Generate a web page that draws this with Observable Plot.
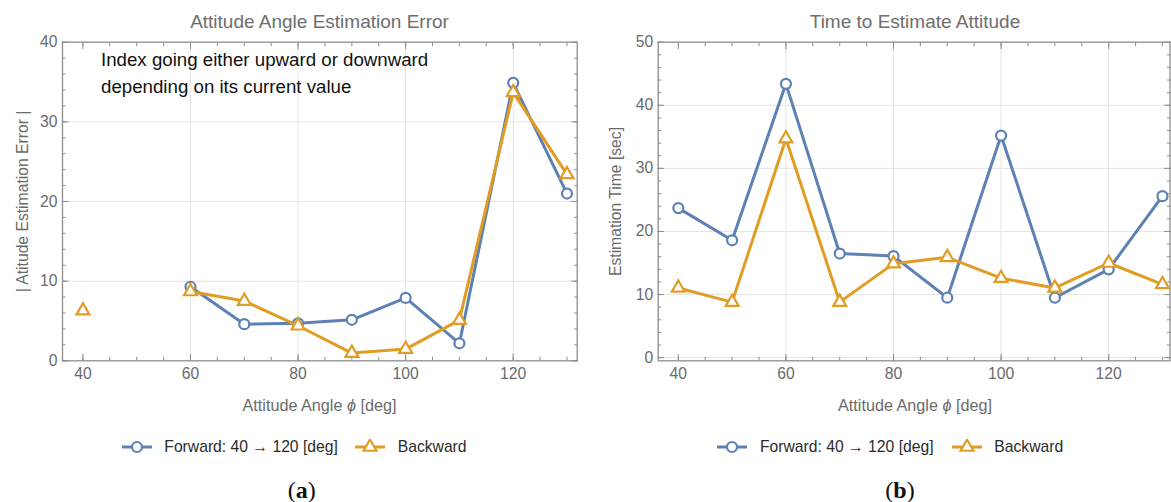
<!DOCTYPE html>
<html>
<head>
<meta charset="utf-8">
<script src="https://cdn.jsdelivr.net/npm/d3@7"></script>
<script src="https://cdn.jsdelivr.net/npm/@observablehq/plot@0.6"></script>
<style>
  body { margin: 0; background: #fff; }
  #fig { position: relative; width: 1171px; height: 502px; overflow: hidden;
         font-family: "Liberation Sans", Arial, sans-serif; background: #fff; }
  #fig svg.plot { position: absolute; top: 0; }
  .t { position: absolute; white-space: nowrap; line-height: 1; }
  .center { transform: translate(-50%, -50%); }
  .left { transform: translate(0, -50%); }
  .title { font-size: 19px; color: #6e6e6e; }
  .xlab { font-size: 16.2px; color: #6b6b6b; }
  .note { font-size: 18.7px; color: #111; }
  .leg { font-size: 15.7px; color: #2b2b2b; }
  .cap { font-family: "Liberation Serif", "DejaVu Serif", serif; font-size: 24px; color: #111; }
  .cap b { font-weight: bold; }
  .sw { position: absolute; transform: translate(0, -50%); }
</style>
</head>
<body>
<div id="fig"></div>
<script>
// Attitude angle (deg) at which each estimate was made
const angles = [40, 50, 60, 70, 80, 90, 100, 110, 120, 130];

// |attitude estimation error| per angle (null = no estimate)
const errorForward  = [null, null, 9.3, 4.6, 4.7, 5.15, 7.9, 2.2, 34.9, 21.0];
const errorBackward = [6.3, null, 8.7, 7.5, 4.4, 0.97, 1.47, 5.1, 33.7, 23.4];

// time needed to estimate attitude (sec)
const timeForward  = [23.7, 18.6, 43.4, 16.5, 16.1, 9.5, 35.2, 9.5, 14.0, 25.6];
const timeBackward = [11.05, 8.8, 34.7, 8.8, 14.9, 15.9, 12.6, 11.05, 15.0, 11.6];

const seriesNames = ["Forward: 40 \u2192 120 [deg]", "Backward"];
const seriesColors = ["#5e81b5", "#e19c24"];
const seriesSymbols = ["circle", "triangle"];

// axis ticks
const xMajor = [40, 60, 80, 100, 120];
const xMinor = d3.range(40, 131, 5);
const errorMajor = [0, 10, 20, 30, 40];
const errorMinor = d3.range(0, 41, 2);
const timeMajor = [0, 10, 20, 30, 40, 50];
const timeMinor = d3.range(0, 51, 2);

const FONT = "'Liberation Sans', Arial, sans-serif";
const TICK = "#8e8e8e";
const GRID = "#e4e4e4";
const LABEL = "#6b6b6b";
const LINE_W = 3;
const DOT_R = [5, 4.8];

function rows(values, s) {
  return angles.map((a, i) => ({angle: a, value: values[i], series: s}));
}

// inward-pointing tick marks on all four sides of the frame
function inwardTicks(xTicks, yTicks, size) {
  const fmt = () => "";
  const common = {tickSize: size, tickFormat: fmt, label: null, color: TICK};
  return [
    Plot.axisX(xTicks, {...common, anchor: "bottom", dy: -size}),
    Plot.axisX(xTicks, {...common, anchor: "top", dy: size}),
    Plot.axisY(yTicks, {...common, anchor: "left", dx: size}),
    Plot.axisY(yTicks, {...common, anchor: "right", dx: -size})
  ];
}

function panel(o) {
  const fwd = rows(o.forward, 0);
  const bwd = rows(o.backward, 1);
  const svg = Plot.plot({
    width: o.width,
    height: 420,
    marginLeft: o.ml,
    marginRight: o.mr,
    marginTop: 41.7,
    marginBottom: 59.7,
    x: {domain: o.xDomain},
    y: {domain: o.yDomain},
    style: {fontFamily: FONT, fontSize: "15.7px", color: LABEL, background: "white", overflow: "visible"},
    marks: [
      Plot.gridX(xMajor.filter(d => d > 40), {stroke: GRID, strokeOpacity: 1}),
      Plot.gridY(o.yMajor.filter(d => d > o.yDomain[0] && d < o.yDomain[1]), {stroke: GRID, strokeOpacity: 1}),
      Plot.frame({stroke: TICK, strokeWidth: 1.3}),
      ...inwardTicks(xMinor, o.yMinor, 3.5),
      ...inwardTicks(xMajor, o.yMajor, 6.5),
      Plot.axisX(xMajor, {anchor: "bottom", tickSize: 0, tickPadding: 7, label: null, color: LABEL}),
      Plot.axisY(o.yMajor, {anchor: "left", tickSize: 0, tickPadding: 5, color: LABEL,
        label: o.ylabel, labelAnchor: "center", labelOffset: o.labelOffset, labelArrow: "none"}),
      Plot.line(fwd, {x: "angle", y: "value", stroke: seriesColors[0], strokeWidth: LINE_W}),
      Plot.dot(fwd, {x: "angle", y: "value", r: DOT_R[0], symbol: seriesSymbols[0], stroke: seriesColors[0], fill: "white", strokeWidth: 2.2}),
      Plot.line(bwd, {x: "angle", y: "value", stroke: seriesColors[1], strokeWidth: LINE_W}),
      Plot.dot(bwd, {x: "angle", y: "value", r: DOT_R[1], symbol: seriesSymbols[1], stroke: seriesColors[1], fill: "white", strokeWidth: 2.2})
    ]
  });
  svg.classList.add("plot");
  svg.style.left = o.left + "px";
  return svg;
}

const fig = document.getElementById("fig");

fig.append(panel({
  left: 0, width: 590, ml: 62, mr: 13.3,
  xDomain: [36.2, 131.9], yDomain: [0, 40],
  yMajor: errorMajor, yMinor: errorMinor,
  forward: errorForward, backward: errorBackward,
  ylabel: "| Atitude Estimation Error |", labelOffset: 46
}));

fig.append(panel({
  left: 590, width: 581, ml: 67.7, mr: 1.5,
  xDomain: [36.26, 131.4], yDomain: [-0.5, 50],
  yMajor: timeMajor, yMinor: timeMinor,
  forward: timeForward, backward: timeBackward,
  ylabel: "Estimation Time [sec]", labelOffset: 48
}));

function text(html, x, y, cls, anchor = "center") {
  const d = document.createElement("div");
  d.className = `t ${cls} ${anchor}`;
  d.style.left = x + "px";
  d.style.top = y + "px";
  d.innerHTML = html;
  fig.append(d);
  return d;
}

// panel titles
text("Attitude Angle Estimation Error", 319.5, 21, "title");
text("Time to Estimate Attitude", 915, 21, "title");

// note inside the error panel
text("Index going either upward or downward", 101, 60, "note", "left");
text("depending on its current value", 101, 87, "note", "left");

// x-axis titles
const xTitle = "Attitude Angle <i>\u03D5</i> [deg]";
text(xTitle, 319.5, 405, "xlab");
text(xTitle, 915, 405, "xlab");

// legends: line with its marker, then the series name
function swatch(x, y, s) {
  const svg = d3.create("svg").attr("class", "sw").attr("width", 30).attr("height", 16)
    .style("left", x + "px").style("top", y + "px");
  svg.append("line").attr("x1", 0).attr("x2", 30).attr("y1", 8).attr("y2", 8)
    .attr("stroke", seriesColors[s]).attr("stroke-width", LINE_W);
  const sym = s === 0 ? d3.symbolCircle : d3.symbolTriangle;
  svg.append("path").attr("d", d3.symbol(sym, Math.PI * DOT_R[s] * DOT_R[s])())
    .attr("transform", "translate(15,8)")
    .attr("fill", "white").attr("stroke", seriesColors[s]).attr("stroke-width", 2.2);
  fig.append(svg.node());
}
const legendRows = [
  {sw: [121.7, 355], txt: [164.3, 397.7]},
  {sw: [717, 951.7], txt: [760, 994.3]}
];
legendRows.forEach(row => {
  seriesNames.forEach((name, s) => {
    swatch(row.sw[s], 446.7, s);
    text(name, row.txt[s], 446.7, "leg", "left");
  });
});

// sub-figure captions
text("(<b>a</b>)", 301.7, 490, "cap");
text("(<b>b</b>)", 900, 490, "cap");
</script>
</body>
</html>
